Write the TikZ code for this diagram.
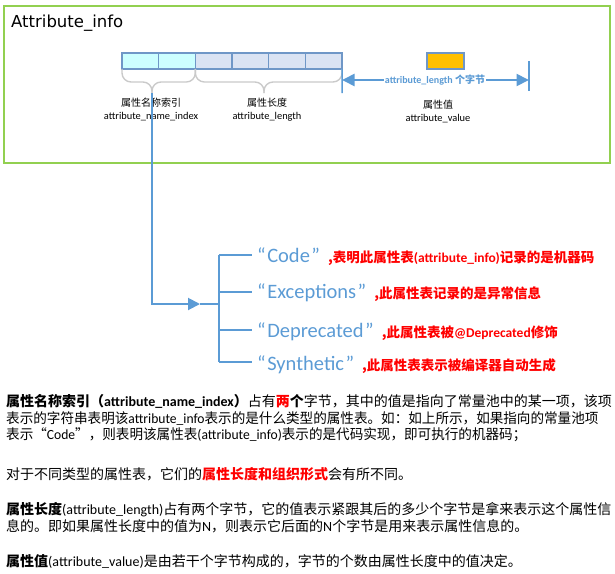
\documentclass[tikz,border=0pt]{standalone}
\usepackage{fontspec}
\setmainfont{Noto Sans CJK SC}
\newfontfamily\latfont{Carlito}
\newfontfamily\titlefont{DejaVu Sans}
\usetikzlibrary{positioning,arrows.meta}
\definecolor{framegreen}{HTML}{92D050}
\definecolor{cellcyan}{HTML}{CCFFFF}
\definecolor{celllav}{HTML}{DAE3F3}
\definecolor{cellline}{HTML}{6F97C7}
\definecolor{valorange}{HTML}{FFC000}
\definecolor{linkblue}{HTML}{5B9BD5}
\definecolor{bracegray}{HTML}{CACACA}
\pgfmathsetmacro{\cellw}{36.67}
\pgfmathsetmacro{\cellh}{16}
\tikzset{
  cell/.style={draw=cellline, line width=1.1pt, minimum width=\cellw, minimum height=\cellh, inner sep=0pt, outer sep=0pt},
  idxcell/.style={cell, fill=cellcyan},
  lencell/.style={cell, fill=celllav},
  valcell/.style={cell, fill=valorange, minimum width=37},
  brace line/.style={draw=bracegray, line width=1.4pt, rounded corners=9pt},
  flow/.style={draw=linkblue, line width=2pt},
  tick/.style={draw=linkblue, line width=1.5pt},
  bigtip/.tip={Triangle[length=12.5pt, width=12pt]},
  zh label/.style={font=\fontsize{10}{12}\selectfont, inner sep=0pt},
  en label/.style={font=\latfont\fontsize{10.4}{12}\selectfont, inner sep=0pt},
  len label/.style={font=\bfseries\fontsize{10}{12}\selectfont, text=linkblue, fill=white, inner sep=1pt},
  item line/.style={anchor=base west, inner sep=0pt},
  body line/.style={anchor=base west, inner sep=0pt, font=\fontsize{14}{17}\selectfont},
}
\newcommand{\itemword}[1]{{\latfont\fontsize{20.5}{24}\selectfont\color{linkblue}“\kern1.5pt#1\kern1.5pt”}\hspace{8pt}}
\newcommand{\itemnote}[1]{{\bfseries\fontsize{13.5}{16}\selectfont\color{red}#1}}
\newcommand{\lat}[1]{{\latfont #1}}
\newcommand{\squeeze}[1]{\scalebox{0.97}[1]{#1}}

\begin{document}
\begin{tikzpicture}[x=1pt, y=-1pt]
    \useasboundingbox (0,0) rectangle (615,573);
    % frame and title
    \draw[framegreen, line width=1.5pt] (4,6) rectangle (610,163);
    \node[anchor=base west, inner sep=0pt, font=\titlefont\fontsize{16.5}{20}\selectfont] (title) at (11,27) {Attribute\_info};
    % byte cells
    \node[idxcell] (idx_1) at (140.33,61) {};
    \node[idxcell, right=0pt of idx_1] (idx_2) {};
    \node[lencell, right=0pt of idx_2] (len_1) {};
    \node[lencell, right=0pt of len_1] (len_2) {};
    \node[lencell, right=0pt of len_2] (len_3) {};
    \node[lencell, right=0pt of len_3] (len_4) {};
    \node[valcell] (val_cell) at (445.5,61) {};
    % braces under the cells
    \coordinate (name_tip) at (152,93);
    \coordinate (name_mid) at (152,82);
    \coordinate (length_tip) at (264,93);
    \coordinate (length_mid) at (264,82);
    \draw[brace line] (idx_1.south west) -- ++(0,13) -- (name_mid) -- (name_tip);
    \draw[brace line] (idx_2.south east) -- ++(0,13) -- (name_mid) -- (name_tip);
    \draw[brace line] (len_1.south west) -- ++(0,13) -- (length_mid) -- (length_tip);
    \draw[brace line] (len_4.south east) -- ++(0,13) -- (length_mid) -- (length_tip);
    % labels under the braces
    \node[zh label] (name_zh) at (151,103) {属性名称索引};
    \node[en label] (name_en) at (151,117) {attribute\_name\_index};
    \node[zh label] (length_zh) at (267,103) {属性长度};
    \node[en label] (length_en) at (267,117) {attribute\_length};
    \node[zh label] (value_zh) at (438,105) {属性值};
    \node[en label] (value_en) at (438,119) {attribute\_value};
    % length of the value
    \coordinate (span_start) at (342,80);
    \coordinate (span_end) at (529,80);
    \draw[tick] (len_4.south east) -- (342,93);
    \draw[tick] (529,61) -- (529,91);
    \draw[flow, bigtip-bigtip] (span_start) -- (span_end);
    \node[len label] (span_text) at (435,80) {\lat{attribute\_length} 个字节};
    % link to the attribute names
    \coordinate (arrow_tip) at (200,304);
    \coordinate (bus_mid) at (219,304);
    \coordinate (bus_top) at (219,255);
    \coordinate (bus_bottom) at (219,362);
    \draw[flow, -{Triangle[length=12pt, width=12pt]}] (name_tip) |- (arrow_tip);
    \draw[flow] (arrow_tip) -- (bus_mid);
    \draw[flow] (bus_top) -- (bus_bottom);
    \draw[flow] (bus_top) -- (252,255);
    \draw[flow] (219,292) -- (252,292);
    \draw[flow] (219,330) -- (252,330);
    \draw[flow] (bus_bottom) -- (252,362);
    % attribute names
    \node[item line] (item_code) at (257,262) {\itemword{Code}\itemnote{,表明此属性表\lat{(attribute\_info)}记录的是机器码}};
    \node[item line] (item_exc) at (257,298) {\itemword{Exceptions}\itemnote{,此属性表记录的是异常信息}};
    \node[item line] (item_dep) at (257,337) {\itemword{Deprecated}\itemnote{,此属性表被\lat{@Deprecated}修饰}};
    \node[item line] (item_syn) at (257,370) {\itemword{Synthetic}\itemnote{,此属性表表示被编译器自动生成}};
    % explanation text
    \node[body line] (para_a1) at (6,406) {{\bfseries 属性名称索引（\lat{attribute\_name\_index}）}占有{\bfseries\color{red}两}{\bfseries 个}字节，其中的值是指向了常量池中的某一项，该项};
    \node[body line] (para_a2) at (6,423) {\squeeze{表示的字符串表明该\lat{attribute\_info}表示的是什么类型的属性表。如：如上所示，如果指向的常量池项}};
    \node[body line] (para_a3) at (6,439.5) {\squeeze{表示“\lat{Code}”，则表明该属性表\lat{(attribute\_info)}表示的是代码实现，即可执行的机器码；}};
    \node[body line] (para_b1) at (6,479.5) {对于不同类型的属性表，它们的{\bfseries\color{red}属性长度和组织形式}会有所不同。};
    \node[body line] (para_c1) at (6,514) {{\bfseries 属性长度}\lat{(attribute\_length)}占有两个字节，它的值表示紧跟其后的多少个字节是拿来表示这个属性信};
    \node[body line] (para_c2) at (6,531.5) {息的。即如果属性长度中的值为\lat{N}，则表示它后面的\lat{N}个字节是用来表示属性信息的。};
    \node[body line] (para_d1) at (6,566) {{\bfseries 属性值}\lat{(attribute\_value)}是由若干个字节构成的，字节的个数由属性长度中的值决定。};
\end{tikzpicture}
\end{document}
